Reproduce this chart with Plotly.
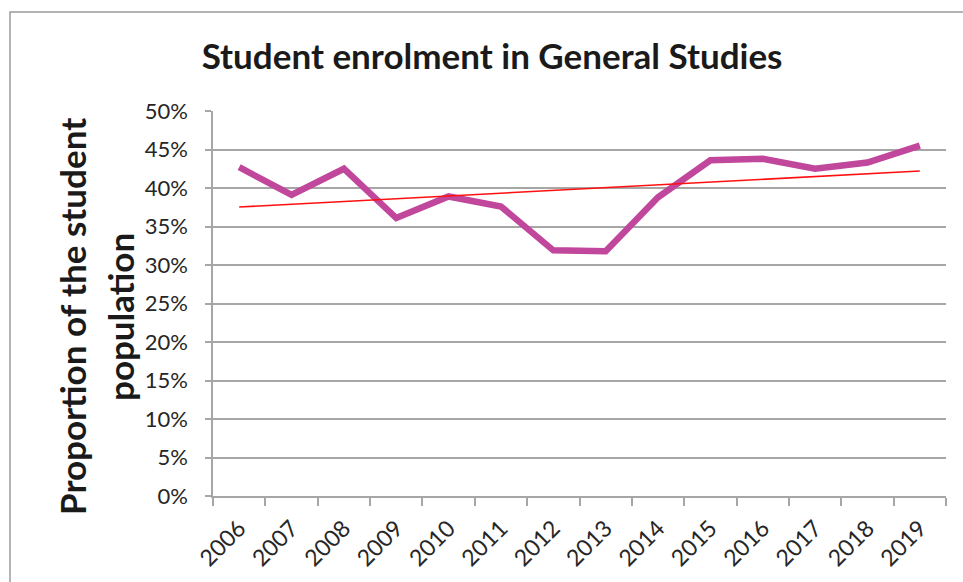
import numpy as np
import plotly.graph_objects as go

# Enrolment share per year
years = ["2006", "2007", "2008", "2009", "2010", "2011", "2012",
         "2013", "2014", "2015", "2016", "2017", "2018", "2019"]
share = [0.427, 0.391, 0.425, 0.361, 0.389, 0.376, 0.319,
         0.318, 0.388, 0.436, 0.438, 0.425, 0.433, 0.455]

y_ticks = [0.0, 0.05, 0.10, 0.15, 0.20, 0.25, 0.30, 0.35, 0.40, 0.45, 0.50]

# Linear trend fitted to the series
idx = np.arange(len(share))
slope, intercept = np.polyfit(idx, share, 1)
trend = (slope * idx + intercept).tolist()

FONT = "Lato"
GRID = "#A6A6A6"

fig = go.Figure()
fig.add_trace(go.Scatter(
    x=years, y=share, mode="lines",
    line=dict(color="#C0479B", width=6.5, shape="linear"),
    showlegend=False, hoverinfo="x+y",
))
fig.add_trace(go.Scatter(
    x=years, y=trend, mode="lines",
    line=dict(color="#FF1010", width=1.6),
    showlegend=False, hoverinfo="skip",
))

fig.update_layout(
    width=963, height=582,
    margin=dict(l=213, r=17, t=111, b=86),
    paper_bgcolor="white", plot_bgcolor="white",
    font=dict(family=FONT, color="#262626"),
    title=dict(
        text="<b>Student enrolment in General Studies</b>",
        font=dict(family=FONT, size=35, color="#1a1a1a"),
        x=0.511, xref="container", xanchor="center",
        y=1 - 57 / 582, yref="container", yanchor="middle",
    ),
)

fig.update_xaxes(
    type="category", range=[-0.5, len(years) - 0.5],
    tickson="boundaries", ticks="outside", ticklen=8, tickwidth=1.5, tickcolor=GRID,
    showgrid=False, showline=True, linecolor=GRID, linewidth=1.5,
    tickangle=-45, tickfont=dict(family=FONT, size=23, color="#262626"),
    ticklabelstandoff=8,
)
fig.update_yaxes(
    range=[0, 0.5], tickvals=y_ticks, tickformat=".0%",
    ticks="outside", ticklen=6, tickwidth=1.5, tickcolor=GRID,
    showgrid=True, gridcolor=GRID, gridwidth=1.5,
    showline=True, linecolor=GRID, linewidth=1.5,
    zeroline=False,
    tickfont=dict(family=FONT, size=22, color="#262626"),
    ticklabelstandoff=13,
)

# Vertical axis title on two lines
for text, xpx in [("<b>Proportion of the student</b>", 72), ("<b>population</b>", 120)]:
    fig.add_annotation(
        text=text, textangle=-90, showarrow=False,
        xref="paper", yref="paper",
        x=(xpx - 213) / 733, y=(496 - 317) / 385,
        xanchor="center", yanchor="middle",
        font=dict(family=FONT, size=35, color="#1a1a1a"),
    )

# Chart frame
fig.add_shape(
    type="rect", xref="paper", yref="paper",
    x0=(10 - 213) / 733, x1=(975 - 213) / 733,
    y0=(496 - 600) / 385, y1=(496 - 12) / 385,
    line=dict(color="#9C9C9C", width=1.5), fillcolor="rgba(0,0,0,0)",
    layer="below",
)

fig.write_html("out.html")
